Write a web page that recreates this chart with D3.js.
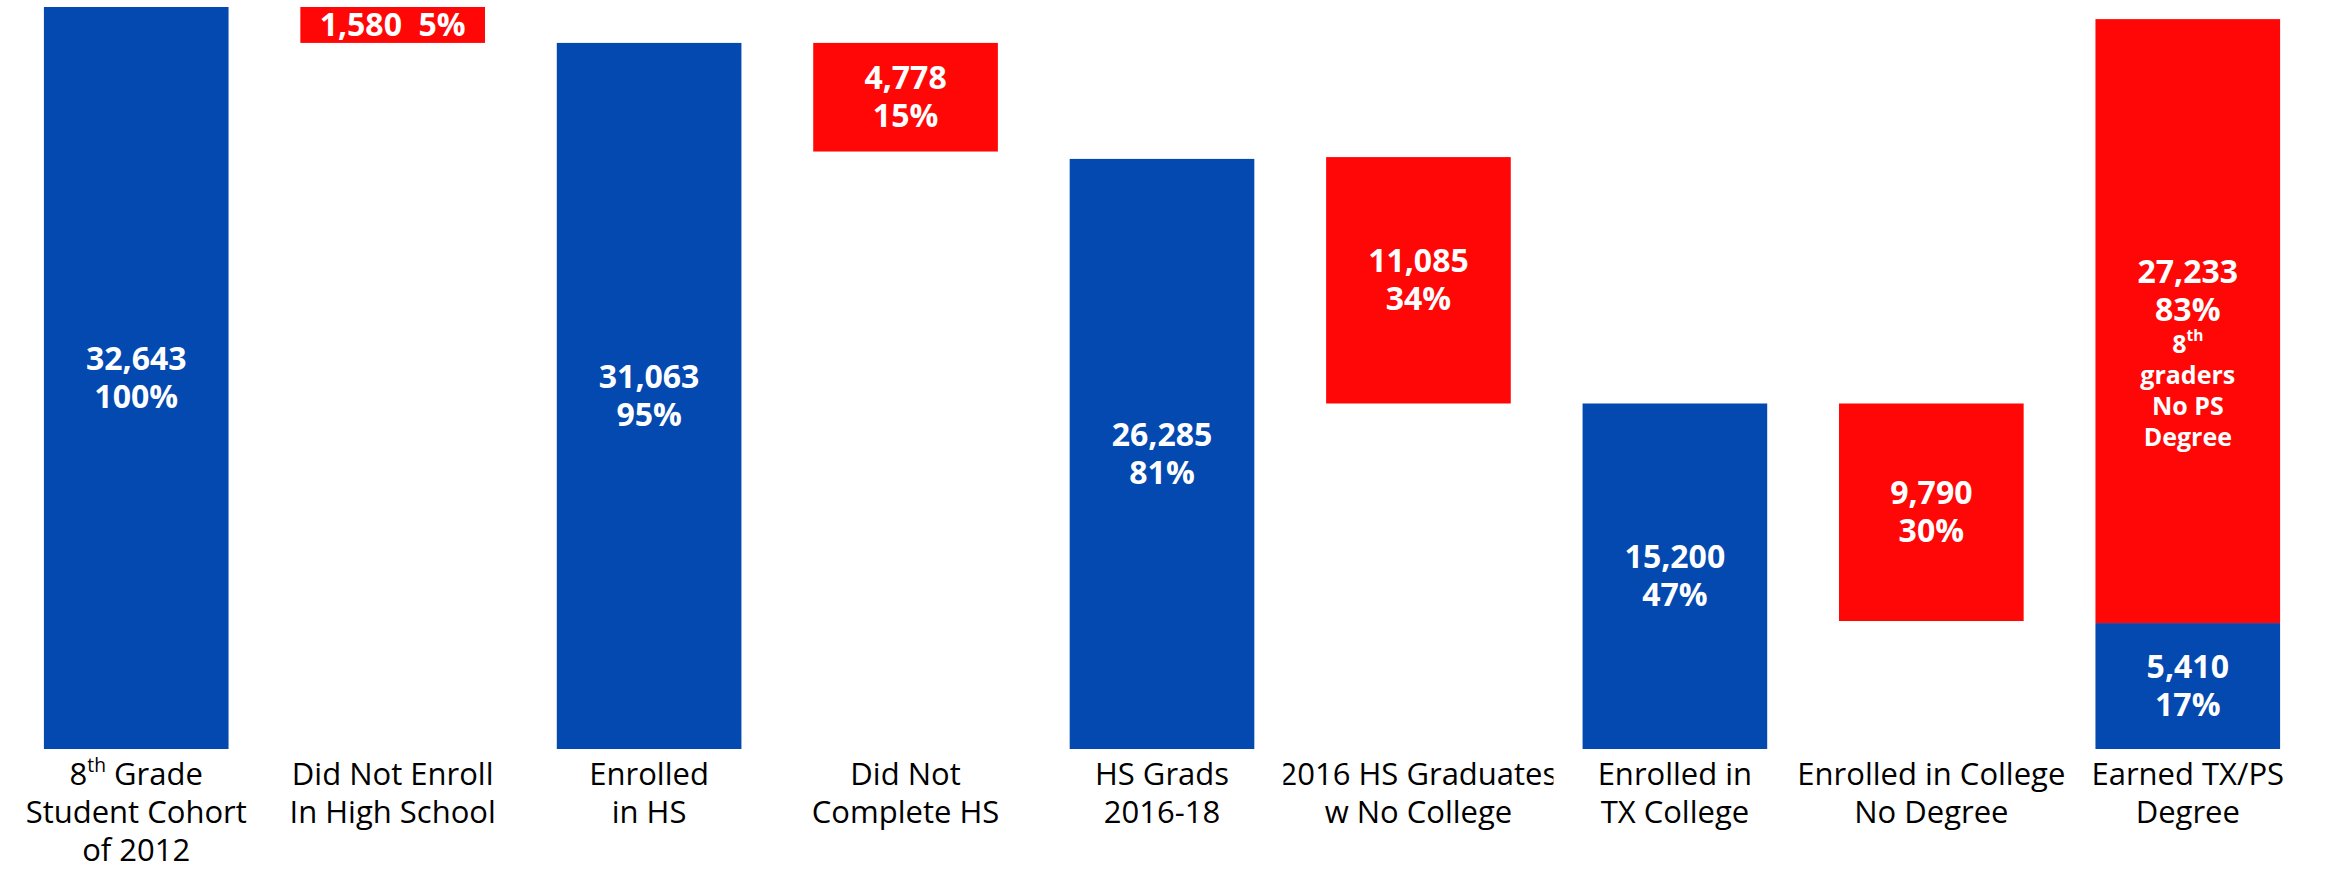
<!DOCTYPE html>
<html>
<head>
<meta charset="utf-8">
<script src="https://cdn.jsdelivr.net/npm/d3@7"></script>
<style>
body { margin: 0; background: #fff; }
svg { display: block; font-family: "Open Sans", sans-serif; }
</style>
</head>
<body>
<svg></svg>
<script>

// category labels, one entry per line; "^" marks a superscript
var categories = [
	["8^th Grade", "Student Cohort", "of 2012"],
	["Did Not Enroll", "In High School"],
	["Enrolled", "in HS"],
	["Did Not", "Complete HS"],
	["HS Grads", "2016-18"],
	["2016 HS Graduates", "w No College"],
	["Enrolled in", "TX College"],
	["Enrolled in College", "No Degree"],
	["Earned TX/PS", "Degree"]
];

// bar segments (the last column holds two)
var segCategory = [0, 1, 2, 3, 4, 5, 6, 7, 8, 8];
var segStart    = [0, 31063, 0, 26285, 0, 15200, 0, 5630, 0, 5540];
var segEnd      = [32643, 32643, 31063, 31063, 25960, 26040, 15200, 15200, 5540, 32110];
var segKind     = ["kept", "lost", "kept", "lost", "kept", "lost", "kept", "lost", "kept", "lost"];
var segCounts   = ["32,643", "1,580", "31,063", "4,778", "26,285", "11,085", "15,200", "9,790", "5,410", "27,233"];
var segShares   = ["100%", "5%", "95%", "15%", "81%", "34%", "47%", "30%", "17%", "83%"];
var lastNote    = ["8^th", "graders", "No PS", "Degree"];

var yMax = 32643;

// setup ........................................................................

var width = 2325, height = 870,
	colors = {kept: "#0349B0", lost: "#FF0707"},
	svg = d3.select("svg").attr("width", width).attr("height", height);

var x = d3.scaleBand()
	.domain(d3.range(categories.length))
	.range([8, 2316])
	.paddingInner(0.28)
	.paddingOuter(0.14);

var y = d3.scaleLinear()
	.domain([0, yMax])
	.range([749, 7]);

// writes one line of text into a tspan, handling "^sup" parts
function fillLine(el, str, size) {
	var parts = str.split(/\^(\w+)/), up = 0;
	parts.forEach(function(p, i) {
		if(!p) return;
		var t = el.append("tspan").text(p);
		if(i % 2) {
			t.attr("font-size", size * 0.62).attr("dy", -size * 0.3);
			up = size * 0.3;
		} else if(up) {
			t.attr("dy", up);
			up = 0;
		}
	});
}

// bars .........................................................................

var segs = segCategory.map(function(c, i) {
	return {c: c, start: segStart[i], end: segEnd[i], kind: segKind[i], i: i};
});

svg.append("g").attr("class", "bars")
	.selectAll("rect")
	.data(segs)
	.enter().append("rect")
		.attr("x", function(d) { return x(d.c); })
		.attr("width", x.bandwidth())
		.attr("y", function(d) { return y(d.end); })
		.attr("height", function(d) { return y(d.start) - y(d.end); })
		.attr("fill", function(d) { return colors[d.kind]; });

// value labels .................................................................

var labels = svg.append("g").attr("class", "values")
	.attr("fill", "#fff")
	.attr("font-weight", 700)
	.attr("text-anchor", "middle");

segs.forEach(function(d) {
	var lines, last = d.i == segs.length - 1;
	if(d.i == 1)
		lines = [{s: segCounts[d.i] + "\u00a0\u00a0" + segShares[d.i], size: 32, lh: 38}];
	else {
		lines = [{s: segCounts[d.i], size: 32, lh: 38}, {s: segShares[d.i], size: 32, lh: 38}];
		if(last)
			lastNote.forEach(function(n) { lines.push({s: n, size: 25, lh: 31}); });
	}

	var total = d3.sum(lines, function(l) { return l.lh; }),
		cx = x(d.c) + x.bandwidth() / 2,
		cy = (y(d.start) + y(d.end)) / 2 + (last ? 30 : -2),
		top = cy - total / 2,
		t = labels.append("text").attr("dominant-baseline", "central");

	lines.forEach(function(l) {
		var row = t.append("tspan")
			.attr("x", cx)
			.attr("y", top + l.lh / 2)
			.attr("font-size", l.size);
		fillLine(row, l.s, l.size);
		top += l.lh;
	});
});

// category labels ..............................................................

var defs = svg.append("defs"),
	axis = svg.append("g").attr("class", "categories")
		.attr("fill", "#000")
		.attr("font-size", 31)
		.attr("text-anchor", "middle");

categories.forEach(function(lines, c) {
	var cx = x(c) + x.bandwidth() / 2;

	defs.append("clipPath").attr("id", "clip" + c)
		.append("rect")
			.attr("x", cx - 135).attr("y", 752)
			.attr("width", 270).attr("height", 118);

	var t = axis.append("g").attr("clip-path", "url(#clip" + c + ")")
		.append("text").attr("dominant-baseline", "central");
	lines.forEach(function(s, k) {
		var row = t.append("tspan")
			.attr("x", cx)
			.attr("y", 773 + k * 38);
		fillLine(row, s, 31);
	});
});
</script>
</body>
</html>
